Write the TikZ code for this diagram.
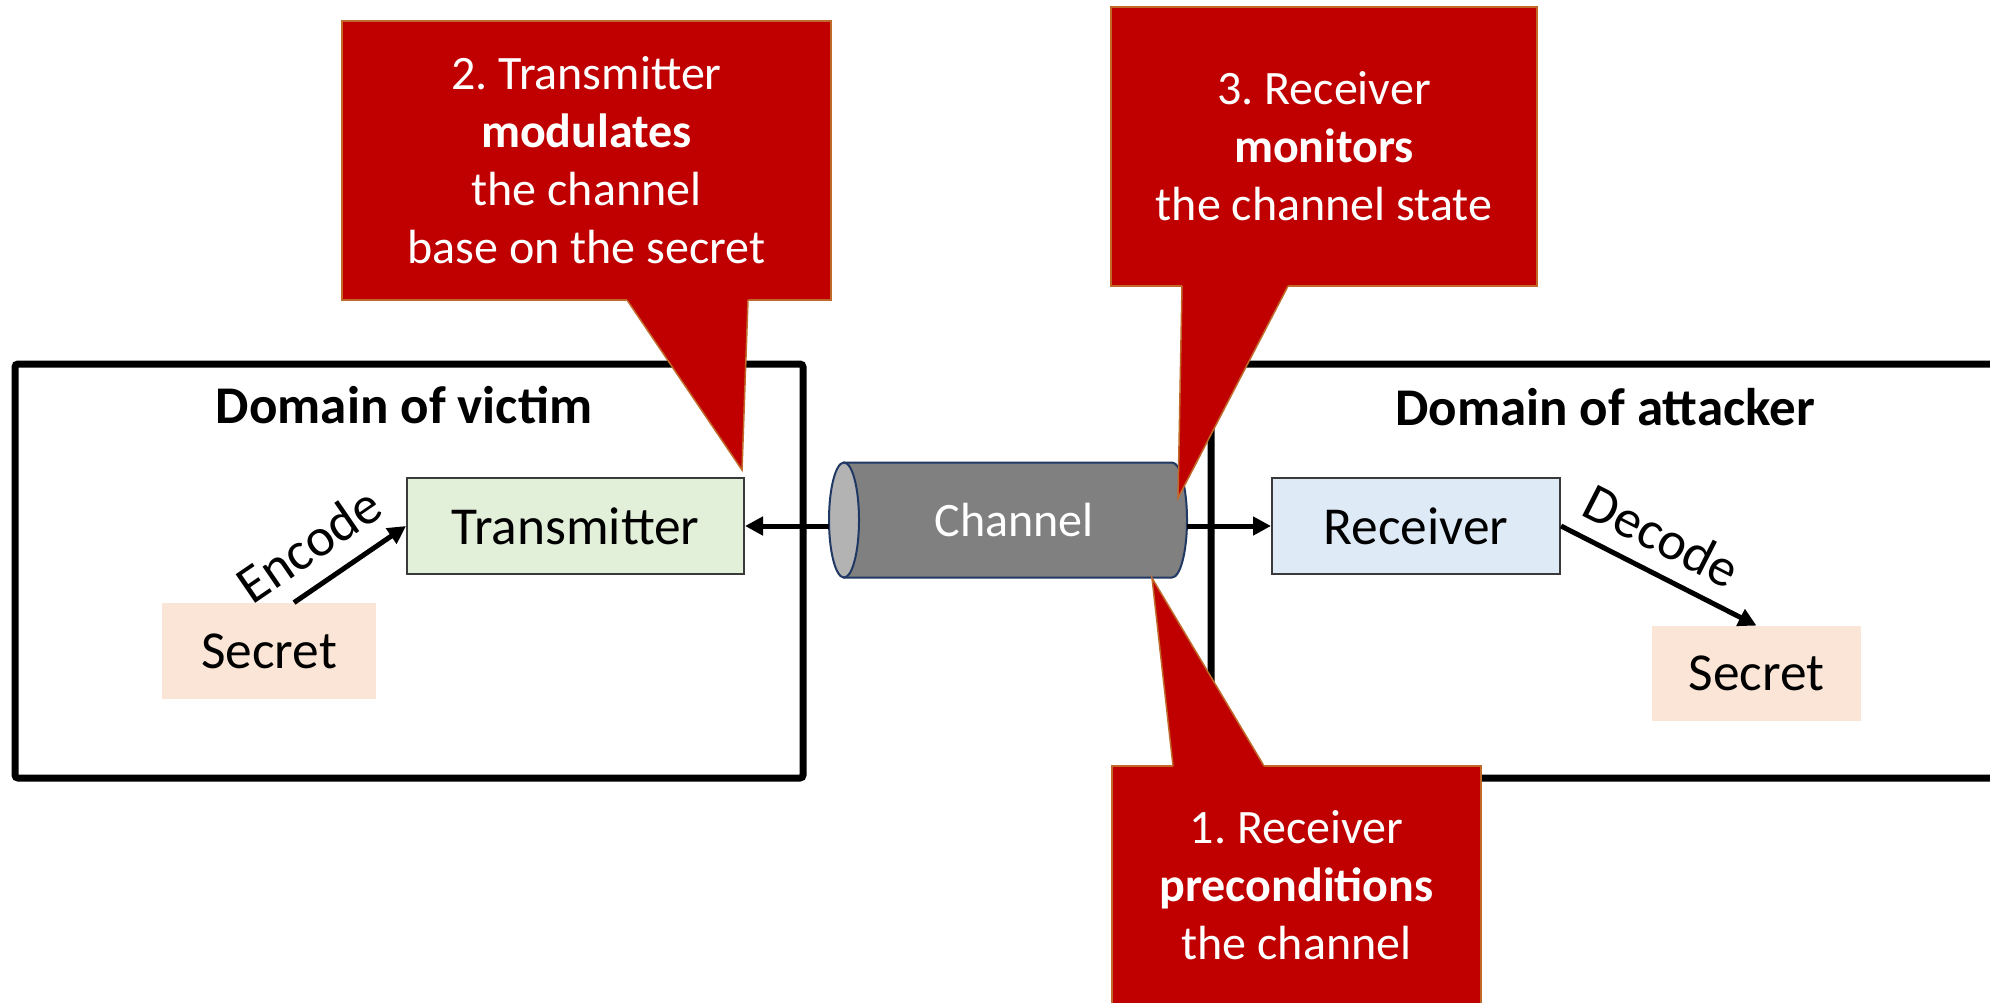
\documentclass[tikz,border=0pt]{standalone}
\usepackage{fontspec}
\setmainfont{Carlito}
\frenchspacing
\usetikzlibrary{arrows.meta,calc}
\definecolor{calloutred}{HTML}{C00000}
\definecolor{calloutedge}{HTML}{C0692A}
\definecolor{txfill}{HTML}{E2F0D9}
\definecolor{rxfill}{HTML}{DEEBF7}
\definecolor{secretfill}{HTML}{FBE5D6}
\definecolor{chbody}{HTML}{808080}
\definecolor{chface}{HTML}{B3B3B3}
\definecolor{chedge}{HTML}{203864}
\definecolor{boxedge}{HTML}{3A3A3A}
\begin{document}
\begin{tikzpicture}[x=0.5pt,y=-0.5pt,
  nodefont/.style={font=\fontsize{26.7pt}{32pt}\selectfont},
  domainbox/.style={draw=black, line width=3.5pt, rounded corners=1.5pt},
  domaintitle/.style={font=\fontsize{26.5pt}{32pt}\selectfont\bfseries, anchor=base},
  unitbox/.style={nodefont, draw=boxedge, line width=1pt, inner sep=0pt},
  secretbox/.style={nodefont, fill=secretfill, inner sep=0pt},
  flowarrow/.style={line width=2.5pt, -{Triangle[length=9pt,width=9pt]}},
  flowlabel/.style={font=\fontsize{27pt}{32pt}\selectfont, inner sep=0pt, sloped},
  calloutbox/.style={fill=calloutred, draw=calloutedge, line width=0.75pt,
    text=white, align=center, font=\fontsize{24pt}{29pt}\selectfont, inner sep=0pt},
  pointerfill/.style={fill=calloutred},
  pointeredge/.style={draw=calloutedge, line width=0.75pt, line join=miter},
]
\useasboundingbox (0,0) rectangle (1990,1002);
\clip (0,0) rectangle (1990,1002);
\fill[white] (0,0) rectangle (1990,1002);

% the two domains
\draw[domainbox] (15,364) rectangle (803,778);
\draw[domainbox] (1211,364) rectangle (2030,778);
\node[domaintitle] (dv) at (404,423) {Domain of victim};
\node[domaintitle] (da) at (1605,425) {Domain of attacker};

% transmitter, receiver and secrets
\node[unitbox, fill=txfill, minimum width=168.5pt, minimum height=48pt] (tx) at (575.5,526) {Transmitter};
\node[unitbox, fill=rxfill, minimum width=144pt, minimum height=48pt] (rx) at (1416,526) {Receiver};
\node[secretbox, minimum width=107pt, minimum height=48pt] (sl) at (269,651) {Secret};
\node[secretbox, minimum width=104.5pt, minimum height=47.5pt] (sr) at (1756.5,673.5) {Secret};

% channel cylinder
\draw[fill=chbody, draw=chedge, line width=1pt]
  (844,462.5) -- (1172,462.5)
  arc[start angle=90, end angle=-90, x radius=7.5pt, y radius=28.75pt]
  -- (844,577.5) -- cycle;
\draw[fill=chface, draw=chedge, line width=1pt]
  (844,520) ellipse [x radius=7.5pt, y radius=28.75pt];
\node[inner sep=0pt, minimum width=179pt, minimum height=57.5pt, text=white,
  font=\fontsize{24pt}{29pt}\selectfont] (ch) at (1008,520) {\hspace*{6.3pt}Channel};

% connectors
\draw[flowarrow] (ch.west |- tx.east) -- (tx.east);
\draw[flowarrow] (ch.east |- rx.west) -- (rx.west);
\draw[flowarrow] ($(sl.north)+(25,0)$) -- (tx.west)
  node[flowlabel, pos=0.33, above=9pt] (enc) {Encode};
\draw[flowarrow] (rx.east) -- (sr.north)
  node[flowlabel, pos=0.43, above=8pt] (dec) {Decode};

% callout 2
\node[calloutbox, minimum width=244.5pt, minimum height=139.5pt] (c2) at (586.5,160.5)
  {2. Transmitter\\\textbf{modulates}\\the channel\\base on the secret};
\coordinate (c2tip) at (742,470);
\fill[pointerfill] (627,297) -- (627,300) -- (c2tip) -- (748,300) -- (748,297) -- cycle;
\draw[pointeredge] (627,300) -- (c2tip) -- (748,300);

% callout 3
\node[calloutbox, minimum width=213pt, minimum height=139.5pt] (c3) at (1324,146.5)
  {3. Receiver\\\textbf{monitors}\\the channel state};
\coordinate (c3tip) at (1178,498);
\fill[pointerfill] (1182,283) -- (1182,286) -- (c3tip) -- (1288,286) -- (1288,283) -- cycle;
\draw[pointeredge] (1182,286) -- (c3tip) -- (1288,286);

% callout 1
\node[calloutbox, minimum width=184.5pt, minimum height=119.5pt] (c1) at (1296.5,885.5)
  {1. Receiver\\\textbf{preconditions}\\the channel};
\coordinate (c1tip) at (1152,578);
\fill[pointerfill] (1173,769) -- (1173,766) -- (c1tip) -- (1264,766) -- (1264,769) -- cycle;
\draw[pointeredge] (1173,766) -- (c1tip) -- (1264,766);
\end{tikzpicture}
\end{document}
